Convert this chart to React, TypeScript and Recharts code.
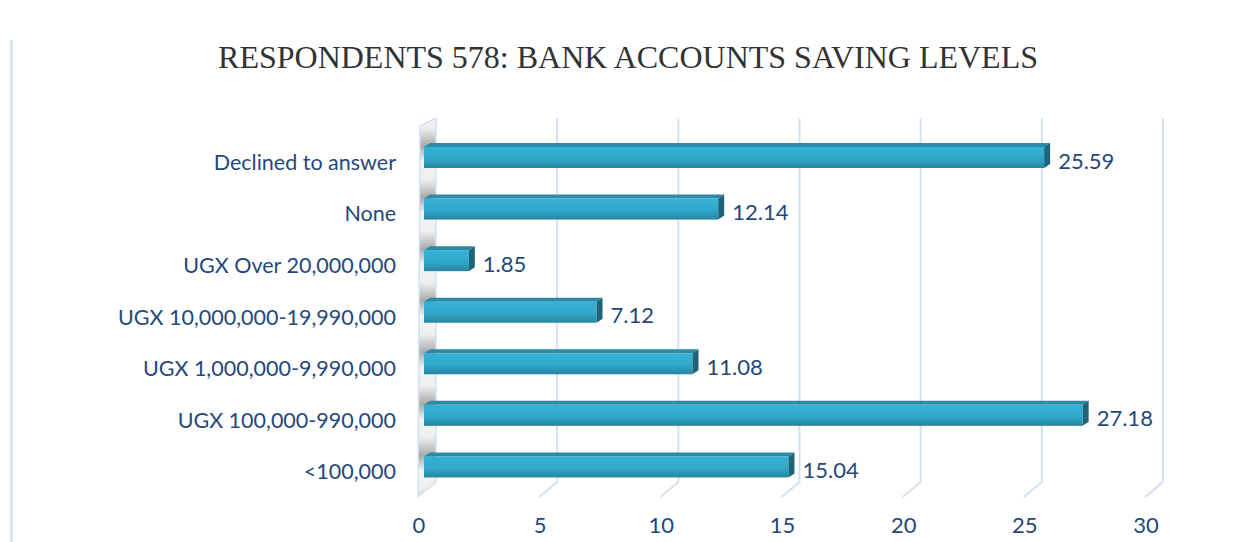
import React from "react";
import { BarChart, Bar, XAxis, YAxis, CartesianGrid, LabelList } from "recharts";

const categories = [
  "Declined to answer",
  "None",
  "UGX Over 20,000,000",
  "UGX 10,000,000-19,990,000",
  "UGX 1,000,000-9,990,000",
  "UGX 100,000-990,000",
  "<100,000",
];
const shares = [25.59, 12.14, 1.85, 7.12, 11.08, 27.18, 15.04];
const xTicks = [0, 5, 10, 15, 20, 25, 30];

const data = categories.map((name, i) => ({ name, value: shares[i] }));

const NAVY = "#25487b";
const GRID = "#d5e1f2";
const DEPTH = 12;

// back-wall gridline with the floor diagonal; the first one is the silver side wall
const GridShape = (props: any) => {
  const { x1, y1, y2, index } = props;
  const top = Math.min(y1, y2);
  const bottom = Math.max(y1, y2);
  const bx = x1 + DEPTH;
  if (index === 0) {
    return (
      <polygon
        points={`${x1 - 4},${top - 4} ${bx},${top - 12} ${bx},${bottom - 9} ${x1 - 6},${bottom + 6}`}
        fill="url(#wallGrad)"
        stroke={GRID}
        strokeWidth={1.5}
      />
    );
  }
  return (
    <polyline
      points={`${bx},${top - 12} ${bx},${bottom - 9} ${x1 - 6},${bottom + 6}`}
      fill="none"
      stroke={GRID}
      strokeWidth={2}
    />
  );
};

const Bar3D = (props: any) => {
  const { x, y, width, height } = props;
  const d = 6;
  const t = 4;
  return (
    <g>
      <polygon
        points={`${x},${y + t} ${x + d},${y} ${x + width + d},${y} ${x + width},${y + t}`}
        fill="#2b8aa5"
      />
      <rect x={x} y={y + t} width={width} height={height - t} fill="url(#barGrad)" />
      <polygon
        points={`${x + width},${y + t} ${x + width + d},${y} ${x + width + d},${y + height - t} ${x + width},${y + height}`}
        fill="#1d6478"
      />
    </g>
  );
};

const YTick = (props: any) => {
  const { x, y, payload } = props;
  return (
    <text x={x - 20} y={y + 14} textAnchor="end" fill={NAVY} fontSize={21.5} fontFamily="Lato">
      {payload.value}
    </text>
  );
};

const XTick = (props: any) => {
  const { x, y, payload } = props;
  return (
    <text x={x - 5} y={y + 34} textAnchor="middle" fill={NAVY} fontSize={22} fontFamily="Lato">
      {payload.value}
    </text>
  );
};

const ValueLabel = (props: any) => {
  const { x, y, width, height, value } = props;
  return (
    <text x={x + width + 14} y={y + height / 2 + 13} fill={NAVY} fontSize={22} fontFamily="Lato">
      {value.toFixed(2)}
    </text>
  );
};

export default function App() {
  return (
    <div style={{ position: "relative", width: 1239, height: 542, background: "#fff" }}>
      <style>{`body{margin:0}`}</style>
      <div
        style={{
          position: "absolute",
          left: 10,
          top: 40,
          width: 3,
          height: 502,
          background: "#dde6f4",
        }}
      />
      <div
        style={{
          position: "absolute",
          left: 0,
          top: 37,
          width: 1256,
          textAlign: "center",
          fontFamily: "Liberation Serif",
          fontSize: 32,
          lineHeight: "40px",
          color: "#333",
        }}
      >
        RESPONDENTS 578: BANK ACCOUNTS SAVING LEVELS
      </div>
      <BarChart
        width={1239}
        height={542}
        data={data}
        layout="vertical"
        margin={{ top: 130, right: 88, bottom: 0, left: 0 }}
        barCategoryGap={15}
        style={{ position: "absolute", left: 0, top: 0 }}
      >
        <defs>
          <linearGradient id="barGrad" x1="0" y1="0" x2="0" y2="1">
            <stop offset="0%" stopColor="#35b2d6" />
            <stop offset="55%" stopColor="#31a8cb" />
            <stop offset="100%" stopColor="#27859f" />
          </linearGradient>
          <linearGradient
            id="wallGrad"
            gradientUnits="userSpaceOnUse"
            x1="0"
            y1="128"
            x2="0"
            y2="179.6"
            spreadMethod="repeat"
          >
            <stop offset="0%" stopColor="#eeeeee" />
            <stop offset="35%" stopColor="#a9a9a9" />
            <stop offset="65%" stopColor="#f4f4f4" />
            <stop offset="100%" stopColor="#eeeeee" />
          </linearGradient>
        </defs>
        <CartesianGrid horizontal={false} vertical={<GridShape />} />
        <XAxis
          type="number"
          domain={[0, 30]}
          ticks={xTicks}
          axisLine={false}
          tickLine={false}
          height={51}
          tick={<XTick />}
          interval={0}
        />
        <YAxis
          type="category"
          dataKey="name"
          width={424}
          axisLine={false}
          tickLine={false}
          tick={<YTick />}
          interval={0}
        />
        <Bar dataKey="value" isAnimationActive={false} shape={<Bar3D />} barSize={25}>
          <LabelList dataKey="value" content={<ValueLabel />} />
        </Bar>
      </BarChart>
    </div>
  );
}
